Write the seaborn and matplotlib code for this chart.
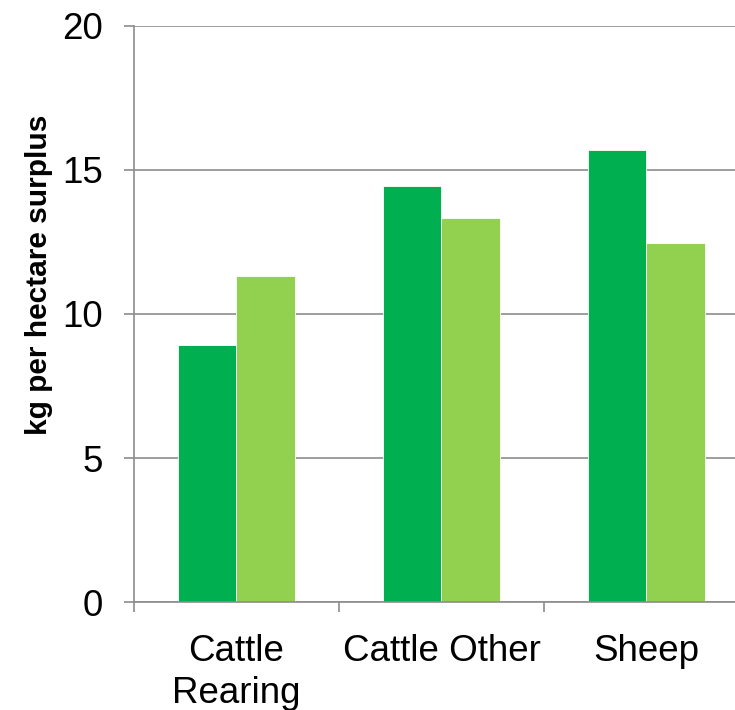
import matplotlib
matplotlib.use("Agg")
import matplotlib.pyplot as plt
import seaborn as sns
import pandas as pd

# Nitrogen surplus by farm system, two series per category
categories = ["Cattle\nRearing", "Cattle Other", "Sheep"]
series_names = ["Series 1", "Series 2"]
series_1 = [8.92, 14.44, 15.69]
series_2 = [11.32, 13.32, 12.48]
colors = ["#00B050", "#92D050"]
y_ticks = [0, 5, 10, 15, 20]

df = pd.DataFrame({
    "category": categories * 2,
    "series": [series_names[0]] * 3 + [series_names[1]] * 3,
    "value": series_1 + series_2,
})

sns.set_style("white")
plt.rcParams["font.family"] = ["Liberation Sans", "DejaVu Sans"]
plt.rcParams["text.color"] = "black"
plt.rcParams["axes.labelcolor"] = "black"
plt.rcParams["xtick.labelcolor"] = "black"
plt.rcParams["ytick.labelcolor"] = "black"

fig = plt.figure(figsize=(7.35, 7.1), dpi=100)
ax = fig.add_axes([0.1823, 0.1521, 0.8367, 0.8113])

sns.barplot(
    data=df, x="category", y="value", hue="series",
    palette=colors, width=0.57, gap=0, saturation=1,
    edgecolor="white", linewidth=0.6, legend=False, ax=ax,
)

grid_col = "#8c8c8c"
ax.set_ylim(0, 20)
ax.set_xlim(-0.5, 2.5)
ax.set_yticks(y_ticks)
ax.set_yticklabels([str(t) for t in y_ticks])
ax.yaxis.grid(True, color=grid_col, linewidth=1.2)
ax.xaxis.grid(False)
ax.set_axisbelow(True)

for side in ["top", "right"]:
    ax.spines[side].set_visible(False)
for side in ["left", "bottom"]:
    ax.spines[side].set_color(grid_col)
    ax.spines[side].set_linewidth(1.2)

# category ticks sit on group boundaries, labels at group centres
ax.set_xticks([-0.5, 0.5, 1.5, 2.5])
ax.set_xticklabels([])
ax.set_xticks([0, 1, 2], minor=True)
ax.set_xticklabels(categories, minor=True, fontsize=26.5, linespacing=1.25)
ax.tick_params(axis="x", which="major", direction="out", length=7.5,
               width=1.2, color=grid_col, bottom=True)
ax.tick_params(axis="x", which="minor", length=0, pad=23)
ax.tick_params(axis="y", direction="out", length=7.5, width=1.2,
               color=grid_col, left=True, labelsize=26.5, pad=15)

ax.set_xlabel("")
ax.set_ylabel("kg per hectare surplus", fontsize=21.5, fontweight="bold")
ax.yaxis.set_label_coords(-0.131, 0.568)

fig.savefig("out.png", dpi=100)
